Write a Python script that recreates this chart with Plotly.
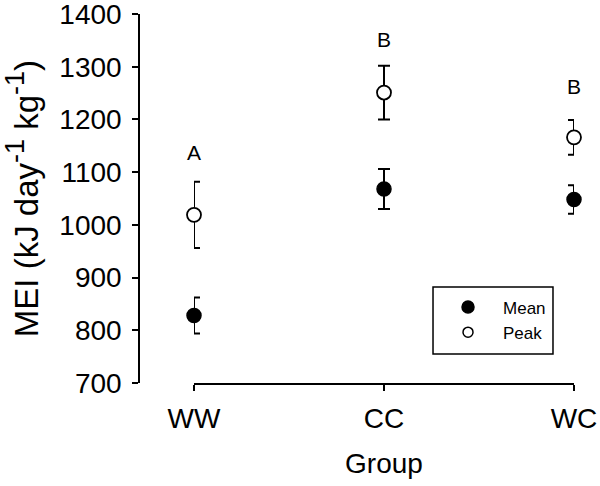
import plotly.graph_objects as go

groups = ["WW", "CC", "WC"]
mean_vals = [828, 1068, 1048]
mean_err = [34, 38, 27]
peak_vals = [1019, 1251, 1166]
peak_err = [63, 51, 33]
sig_labels = ["A", "B", "B"]
sig_y = [1137, 1352, 1263]

FONT = "Liberation Sans, Arial, sans-serif"
xpos = list(range(len(groups)))

fig = go.Figure()
fig.add_trace(go.Scatter(
    x=xpos, y=mean_vals, mode="markers", name="Mean", showlegend=False,
    marker=dict(symbol="circle", size=14, color="black", line=dict(color="black", width=1.5)),
    error_y=dict(type="data", array=mean_err, color="black", thickness=2, width=6),
    cliponaxis=False,
))
fig.add_trace(go.Scatter(
    x=xpos, y=peak_vals, mode="markers", name="Peak", showlegend=False,
    marker=dict(symbol="circle", size=14, color="white", line=dict(color="black", width=1.8)),
    error_y=dict(type="data", array=peak_err, color="black", thickness=2, width=6),
    cliponaxis=False,
))
# legend entries (legend symbols are smaller in the reference)
fig.add_trace(go.Scatter(
    x=[None], y=[None], mode="markers", name="Mean",
    marker=dict(symbol="circle", size=12, color="black", line=dict(color="black", width=1.5)),
))
fig.add_trace(go.Scatter(
    x=[None], y=[None], mode="markers", name="Peak",
    marker=dict(symbol="circle", size=10, color="white", line=dict(color="black", width=1.5)),
))

for xi, lab, yv in zip(xpos, sig_labels, sig_y):
    fig.add_annotation(x=xi, y=yv, text=lab, showarrow=False,
                       font=dict(family=FONT, size=21, color="black"))

# legend frame
fig.add_shape(type="rect", xref="paper", yref="paper",
              x0=0.6759, x1=0.9517, y0=0.0786, y1=0.2602,
              line=dict(color="black", width=1.5), fillcolor="white", layer="below")

fig.update_layout(
    width=600, height=486,
    margin=dict(l=139, r=26, t=14, b=103),
    paper_bgcolor="white", plot_bgcolor="white",
    font=dict(family=FONT, color="black"),
    showlegend=True,
    legend=dict(
        x=0.6759, y=0.1707, xanchor="left", yanchor="middle",
        borderwidth=0, bgcolor="rgba(0,0,0,0)",
        font=dict(family=FONT, size=17, color="black"),
        itemwidth=60, tracegroupgap=0, itemsizing="trace",
    ),
    xaxis=dict(
        domain=[55 / 435, 1], range=[0, 2], automargin=False,
        tickmode="array", tickvals=xpos, ticktext=groups,
        showline=True, linecolor="black", linewidth=1.5,
        ticks="outside", ticklen=6, tickwidth=1.5, tickcolor="black",
        showgrid=False, zeroline=False,
        tickfont=dict(family=FONT, size=28, color="black"),
        ticklabelstandoff=4, ticklabeloverflow="allow",
        title=dict(text="Group", font=dict(family=FONT, size=28, color="black"), standoff=20),
    ),
    yaxis=dict(
        anchor="free", position=0, automargin=False,
        range=[700, 1400], tickvals=[700, 800, 900, 1000, 1100, 1200, 1300, 1400],
        showline=True, linecolor="black", linewidth=1.5,
        ticks="outside", ticklen=6, tickwidth=1.5, tickcolor="black",
        showgrid=False, zeroline=False,
        tickfont=dict(family=FONT, size=28, color="black"),
        ticklabelstandoff=5, ticklabeloverflow="allow",
        title=dict(text="MEI (kJ day<sup><span style='font-size:27px'>-1</span></sup> kg<sup><span style='font-size:27px'>-1</span></sup>)",
                   font=dict(family=FONT, size=33, color="black"), standoff=18),
    ),
)

fig.write_html("out.html", config={"displayModeBar": False},
               post_script="document.body.style.margin='0px';")
